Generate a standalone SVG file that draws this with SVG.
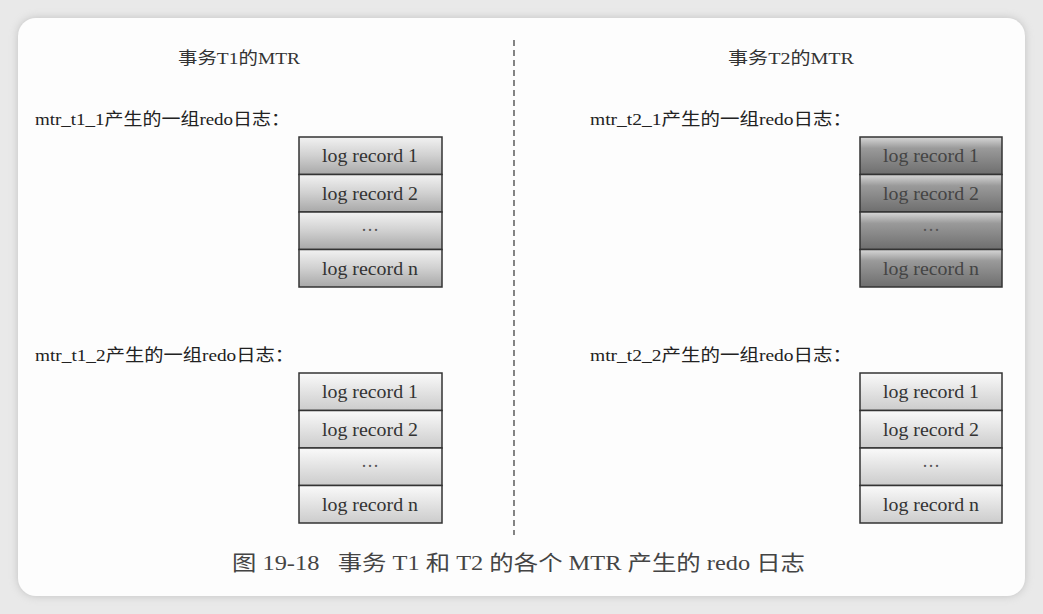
<svg xmlns="http://www.w3.org/2000/svg" width="1043" height="614" viewBox="0 0 1043 614">
<defs>
<linearGradient id="gMid" x1="0" y1="0" x2="0" y2="1">
<stop offset="0" stop-color="#f2f2f2"/><stop offset="0.5" stop-color="#d0d0d0"/><stop offset="1" stop-color="#a8a8a8"/>
</linearGradient>
<linearGradient id="gDark" x1="0" y1="0" x2="0" y2="1">
<stop offset="0" stop-color="#d8d8d8"/><stop offset="0.3" stop-color="#9a9a9a"/><stop offset="1" stop-color="#6e6e6e"/>
</linearGradient>
<linearGradient id="gLight" x1="0" y1="0" x2="0" y2="1">
<stop offset="0" stop-color="#fafafa"/><stop offset="0.6" stop-color="#dedede"/><stop offset="1" stop-color="#cccccc"/>
</linearGradient>
<filter id="sh" x="-5%" y="-5%" width="110%" height="110%"><feGaussianBlur stdDeviation="4"/></filter>
</defs>
<style>
.row{stroke:#333;stroke-width:1.5}
.rt{font-family:"Liberation Serif",serif;font-size:19px;fill:#333;text-anchor:middle}
.dk{fill:#444}
.dt{font-family:"Liberation Serif",serif;font-size:18px;fill:#555;text-anchor:middle}
.lbl{font-family:"Liberation Serif","Noto Sans CJK SC",serif;font-size:17px;fill:#222}
.ttl{font-family:"Liberation Serif","Noto Sans CJK SC",serif;font-size:17px;fill:#333}
.cap{font-family:"Liberation Serif","Noto Sans CJK SC",serif;font-size:21px;fill:#444}
</style>
<rect width="1043" height="614" fill="#e9e9e9"/>
<rect x="18" y="18" width="1007" height="578" rx="18" fill="#999" opacity="0.5" filter="url(#sh)"/>
<rect x="18" y="18" width="1007" height="578" rx="18" fill="#fdfdfd"/>

<g id="connectors">
<line x1="514" y1="40" x2="514" y2="535" stroke="#444" stroke-width="1.3" stroke-dasharray="6,4"/>
</g>

<g id="title-t1"><text class="ttl" x="178" y="64" textLength="122" lengthAdjust="spacingAndGlyphs">事务T1的MTR</text></g>
<g id="title-t2"><text class="ttl" x="728" y="64" textLength="126" lengthAdjust="spacingAndGlyphs">事务T2的MTR</text></g>

<g id="label-t1-1"><text class="lbl" x="35" y="125" textLength="255" lengthAdjust="spacingAndGlyphs">mtr_t1_1产生的一组redo日志：</text></g>
<g id="label-t2-1"><text class="lbl" x="590" y="125" textLength="262" lengthAdjust="spacingAndGlyphs">mtr_t2_1产生的一组redo日志：</text></g>
<g id="label-t1-2"><text class="lbl" x="35" y="361" textLength="259" lengthAdjust="spacingAndGlyphs">mtr_t1_2产生的一组redo日志：</text></g>
<g id="label-t2-2"><text class="lbl" x="590" y="361" textLength="262" lengthAdjust="spacingAndGlyphs">mtr_t2_2产生的一组redo日志：</text></g>

<g id="group-t1-1">
<rect class="row" x="299" y="137" width="143" height="37.5" fill="url(#gMid)"/>
<rect class="row" x="299" y="174.5" width="143" height="37.5" fill="url(#gMid)"/>
<rect class="row" x="299" y="212" width="143" height="37.5" fill="url(#gMid)"/>
<rect class="row" x="299" y="249.5" width="143" height="37.5" fill="url(#gMid)"/>
<text class="rt" x="370" y="162" textLength="96" lengthAdjust="spacingAndGlyphs">log record 1</text>
<text class="rt" x="370" y="200" textLength="96" lengthAdjust="spacingAndGlyphs">log record 2</text>
<text class="dt" x="370" y="236">···</text>
<text class="rt" x="370" y="275" textLength="96" lengthAdjust="spacingAndGlyphs">log record n</text>
</g>

<g id="group-t2-1">
<rect class="row" x="860" y="137" width="142" height="37.5" fill="url(#gDark)"/>
<rect class="row" x="860" y="174.5" width="142" height="37.5" fill="url(#gDark)"/>
<rect class="row" x="860" y="212" width="142" height="37.5" fill="url(#gDark)"/>
<rect class="row" x="860" y="249.5" width="142" height="37.5" fill="url(#gDark)"/>
<text class="rt dk" x="931" y="162" textLength="96" lengthAdjust="spacingAndGlyphs">log record 1</text>
<text class="rt dk" x="931" y="200" textLength="96" lengthAdjust="spacingAndGlyphs">log record 2</text>
<text class="dt" x="931" y="236">···</text>
<text class="rt dk" x="931" y="275" textLength="96" lengthAdjust="spacingAndGlyphs">log record n</text>
</g>

<g id="group-t1-2">
<rect class="row" x="299" y="373" width="143" height="37.5" fill="url(#gLight)"/>
<rect class="row" x="299" y="410.5" width="143" height="37.5" fill="url(#gLight)"/>
<rect class="row" x="299" y="448" width="143" height="37.5" fill="url(#gLight)"/>
<rect class="row" x="299" y="485.5" width="143" height="37.5" fill="url(#gLight)"/>
<text class="rt" x="370" y="398" textLength="96" lengthAdjust="spacingAndGlyphs">log record 1</text>
<text class="rt" x="370" y="436" textLength="96" lengthAdjust="spacingAndGlyphs">log record 2</text>
<text class="dt" x="370" y="472">···</text>
<text class="rt" x="370" y="511" textLength="96" lengthAdjust="spacingAndGlyphs">log record n</text>
</g>

<g id="group-t2-2">
<rect class="row" x="860" y="373" width="142" height="37.5" fill="url(#gLight)"/>
<rect class="row" x="860" y="410.5" width="142" height="37.5" fill="url(#gLight)"/>
<rect class="row" x="860" y="448" width="142" height="37.5" fill="url(#gLight)"/>
<rect class="row" x="860" y="485.5" width="142" height="37.5" fill="url(#gLight)"/>
<text class="rt" x="931" y="398" textLength="96" lengthAdjust="spacingAndGlyphs">log record 1</text>
<text class="rt" x="931" y="436" textLength="96" lengthAdjust="spacingAndGlyphs">log record 2</text>
<text class="dt" x="931" y="472">···</text>
<text class="rt" x="931" y="511" textLength="96" lengthAdjust="spacingAndGlyphs">log record n</text>
</g>

<g id="caption"><text class="cap" x="232" y="570" xml:space="preserve" textLength="573" lengthAdjust="spacingAndGlyphs">图 19-18   事务 T1 和 T2 的各个 MTR 产生的 redo 日志</text></g>
</svg>
